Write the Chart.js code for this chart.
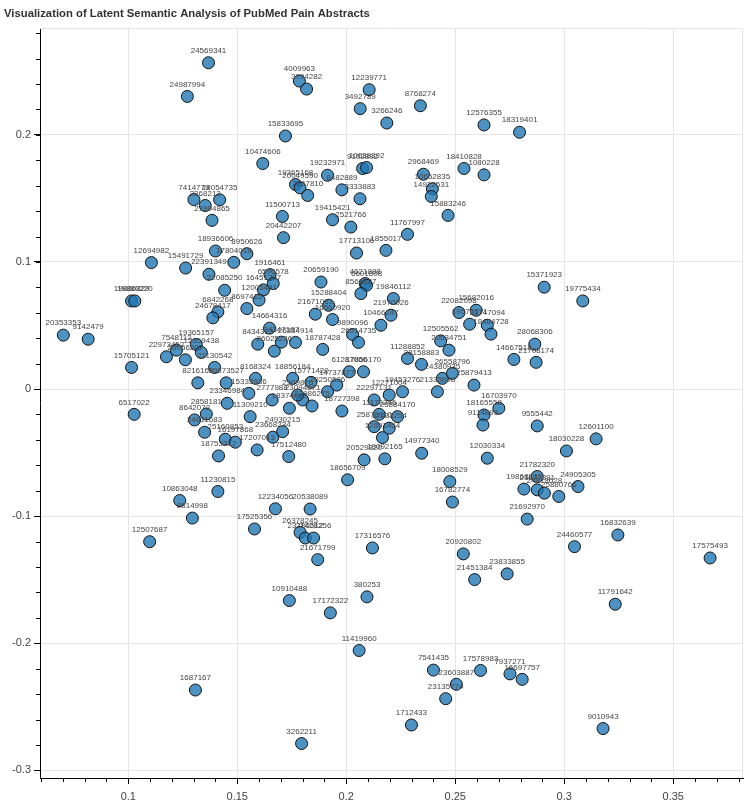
<!DOCTYPE html>
<html lang="en">
  <head>
    <meta charset="UTF-8" />
    <title>LSA of PubMed Pain Abstracts</title>
    <script src="https://cdn.jsdelivr.net/npm/chart.js"></script>
    <style>
      html, body { margin: 0; padding: 0; background: #fff; }
      #wrap { width: 750px; height: 805px; }
    </style>
  </head>
  <body>
    <div id="wrap"><canvas id="lsaChart"></canvas></div>
    <script>
      // PubMed ids and their LSA coordinates (component 1, component 2)
      const pmids = [
        "24569341","24987994","10474606","4009963","3794282","12239771","3492789","3266246","8768274","12576355",
        "18319401","15833695","9102892","10638392","2968469","18410828","1080228","19232971","8482889","3333883",
        "19365168","20049590","2267810","10652835","14922531","15883246","19415421","2521766","11500713","20442207",
        "11767997","17713106","1855017","20659190","4621888","6601808","8568627","19846112","15288404","21970026",
        "21671081","16560920","10466247","9890096","26514735","22082098","15682016","21747094","19570371","18484728",
        "7414779","18054735","2368212","21904865","18936606","8950626","17804018","12694982","15491729","22391349",
        "1916461","6596578","16451297","22085250","6842268","24678417","8697415","12005491","19886829","19880220",
        "20353353","9142479","15705121","22973452","7548112","19365157","12359438","26056207","21130542","8216169",
        "19873527","8434323","26025236","8168324","15333936","23346984","2777988","2858181","8642072","24611683",
        "11309210","25160853","16197868","18753312","17207013","23668234","6517022","18787428","11288852","28158883",
        "24380935","26558796","25879413","14667518","28068306","21708174","15371923","19775434","61287066","17856170",
        "16703970","18165558","9114893","12030334","14977340","19092165","20529320","18656709","18008529","16782774",
        "25884170","25878110","11170246","12633254","12891454","22297131","12271004","14737877","19453276","21335898",
        "12505562","20634751","26334914","18856184","15771420","23094571","2309876","18374880","22986275","17512480",
        "11230815","10863048","8814998","12507687","17525356","12234056","20538089","26378245","23780512","21428256",
        "21671799","17316576","20920802","21451384","23833855","10910488","380253","17172322","1687167","11419960",
        "7541435","17578983","23603887","23135774","1712433","3262211","7937271","16697757","9555442","12601100",
        "18030228","21782320","24905305","19868830","21877391","24818628","25880766","21692970","24460577","16832639",
        "17575493","11791642","9010943","14664316","24347187","24930215","20250536","18727398"
      ];
      const lsaX = [
        0.1368,0.1271,0.1617,0.1785,0.1818,0.2105,0.2064,0.2186,0.2340,0.2632,
        0.2795,0.1721,0.2075,0.2093,0.2354,0.2540,0.2632,0.1914,0.1980,0.2063,
        0.1767,0.1788,0.1823,0.2395,0.2390,0.2467,0.1937,0.2021,0.1707,0.1712,
        0.2281,0.2047,0.2182,0.1884,0.2087,0.2093,0.2067,0.2216,0.1919,0.2205,
        0.1858,0.1937,0.2159,0.2029,0.2056,0.2517,0.2596,0.2647,0.2566,0.2664,
        0.1301,0.1419,0.1353,0.1384,0.1400,0.1544,0.1484,0.1106,0.1263,0.1370,
        0.1650,0.1665,0.1620,0.1442,0.1411,0.1388,0.1544,0.1600,0.1015,0.1030,
        0.0702,0.0816,0.1015,0.1175,0.1221,0.1312,0.1335,0.1262,0.1396,0.1319,
        0.1449,0.1594,0.1670,0.1584,0.1553,0.1454,0.1660,0.1358,0.1304,0.1350,
        0.1559,0.1445,0.1491,0.1414,0.1591,0.1663,0.1027,0.1892,0.2281,0.2345,
        0.2441,0.2487,0.2586,0.2769,0.2865,0.2871,0.2908,0.3085,0.2014,0.2079,
        0.2700,0.2632,0.2627,0.2647,0.2346,0.2177,0.2082,0.2006,0.2475,0.2487,
        0.2235,0.2128,0.2151,0.2197,0.2166,0.2128,0.2197,0.1956,0.2258,0.2418,
        0.2433,0.2471,0.1767,0.1754,0.1838,0.1800,0.1777,0.1739,0.1843,0.1736,
        0.1411,0.1236,0.1294,0.1098,0.1579,0.1675,0.1834,0.1788,0.1812,0.1850,
        0.1869,0.2120,0.2537,0.2589,0.2738,0.1739,0.2095,0.1927,0.1308,0.2059,
        0.2400,0.2616,0.2505,0.2456,0.2299,0.1795,0.2751,0.2807,0.2876,0.3146,
        0.3010,0.2876,0.3063,0.2815,0.2876,0.2909,0.2975,0.2830,0.3047,0.3246,
        0.3669,0.3234,0.3178,0.1648,0.1702,0.1708,0.1914,0.1980
      ];
      const lsaY = [
        0.2567,0.2302,0.1774,0.2423,0.2360,0.2355,0.2206,0.2093,0.2229,0.2078,
        0.2020,0.1991,0.1735,0.1743,0.1690,0.1735,0.1685,0.1682,0.1567,0.1497,
        0.1609,0.1583,0.1523,0.1575,0.1515,0.1366,0.1332,0.1274,0.1358,0.1191,
        0.1217,0.1070,0.1091,0.0842,0.0830,0.0816,0.0751,0.0712,0.0659,0.0581,
        0.0589,0.0547,0.0502,0.0429,0.0367,0.0602,0.0620,0.0502,0.0510,0.0432,
        0.1491,0.1489,0.1444,0.1327,0.1086,0.1065,0.0997,0.0995,0.0952,0.0903,
        0.0900,0.0830,0.0780,0.0777,0.0607,0.0560,0.0633,0.0700,0.0693,0.0693,
        0.0424,0.0392,0.0170,0.0254,0.0306,0.0351,0.0288,0.0230,0.0170,0.0049,
        0.0049,0.0353,0.0298,0.0084,-0.0034,-0.0112,-0.0086,-0.0196,-0.0243,-0.0340,
        -0.0217,-0.0395,-0.0418,-0.0526,-0.0479,-0.0379,-0.0199,0.0312,0.0241,0.0194,
        0.0084,0.0123,0.0031,0.0233,0.0353,0.0210,0.0801,0.0693,0.0136,0.0136,
        -0.0151,-0.0204,-0.0283,-0.0544,-0.0505,-0.0549,-0.0557,-0.0714,-0.0728,-0.0889,
        -0.0217,-0.0296,-0.0199,-0.0308,-0.0382,-0.0086,-0.0047,0.0031,-0.0021,-0.0021,
        0.0379,0.0306,0.0367,0.0084,0.0053,-0.0086,-0.0047,-0.0151,-0.0133,-0.0531,
        -0.0806,-0.0877,-0.1015,-0.1201,-0.1101,-0.0942,-0.0944,-0.1128,-0.1172,-0.1172,
        -0.1342,-0.1250,-0.1297,-0.1499,-0.1454,-0.1664,-0.1635,-0.1761,-0.2368,-0.2057,
        -0.2211,-0.2214,-0.2323,-0.2436,-0.2643,-0.2789,-0.2241,-0.2284,-0.0290,-0.0392,
        -0.0487,-0.0688,-0.0767,-0.0787,-0.0793,-0.0819,-0.0845,-0.1023,-0.1240,-0.1148,
        -0.1329,-0.1693,-0.2671,0.0479,0.0369,-0.0335,-0.0021,-0.0173
      ];

      const points = lsaX.map((x, i) => ({ x: x, y: lsaY[i] }));

      const xMajor = [0.1, 0.15, 0.2, 0.25, 0.3, 0.35];
      const yMajor = [-0.3, -0.2, -0.1, 0, 0.1, 0.2];

      // pmid text above each circle
      const pointLabels = {
        id: "pointLabels",
        afterDatasetsDraw(chart) {
          const ctx = chart.ctx;
          const meta = chart.getDatasetMeta(0);
          ctx.save();
          ctx.font = "8px 'Liberation Sans', Arial, sans-serif";
          ctx.fillStyle = "#444";
          ctx.textAlign = "center";
          ctx.textBaseline = "bottom";
          meta.data.forEach((el, i) => {
            ctx.fillText(pmids[i], el.x, el.y - 8);
          });
          ctx.restore();
        },
      };

      // minor ticks + light outline like bokeh
      const axisExtras = {
        id: "axisExtras",
        afterDraw(chart) {
          const ctx = chart.ctx;
          const a = chart.chartArea;
          const xs = chart.scales.x;
          const ys = chart.scales.y;
          ctx.save();
          ctx.strokeStyle = "#e5e5e5";
          ctx.lineWidth = 1;
          ctx.beginPath();
          ctx.moveTo(a.left, a.top + 0.5);
          ctx.lineTo(a.right - 0.5, a.top + 0.5);
          ctx.lineTo(a.right - 0.5, a.bottom);
          ctx.stroke();
          ctx.strokeStyle = "#000";
          ctx.beginPath();
          for (let v = 0.06; v < 0.385; v += 0.01) {
            const px = Math.round(xs.getPixelForValue(v)) + 0.5;
            ctx.moveTo(px, a.bottom);
            ctx.lineTo(px, a.bottom + 4);
          }
          for (let v = -0.3; v < 0.285; v += 0.02) {
            const py = Math.round(ys.getPixelForValue(v)) + 0.5;
            ctx.moveTo(a.left, py);
            ctx.lineTo(a.left - 4, py);
          }
          ctx.stroke();
          ctx.restore();
        },
      };

      const ctx = document.getElementById("lsaChart").getContext("2d");
      new Chart(ctx, {
        type: "scatter",
        data: {
          datasets: [
            {
              data: points,
              pointRadius: 6,
              pointHoverRadius: 6,
              backgroundColor: "rgba(31,119,180,0.8)",
              borderColor: "#111",
              borderWidth: 1,
            },
          ],
        },
        options: {
          responsive: true,
          maintainAspectRatio: false,
          animation: false,
          layout: { padding: { top: 4, left: 4, right: 5, bottom: 0 } },
          plugins: {
            legend: { display: false },
            tooltip: { enabled: false },
            title: {
              display: true,
              text: "Visualization of Latent Semantic Analysis of PubMed Pain Abstracts",
              align: "start",
              color: "#333",
              font: { family: "'Liberation Sans', Arial, sans-serif", size: 11.3, weight: "bold" },
              padding: { top: 3, bottom: 7.5 },
            },
          },
          scales: {
            x: {
              type: "linear",
              min: 0.0595,
              max: 0.382,
              afterFit: (s) => { s.height = 27; },
              afterBuildTicks: (s) => { s.ticks = xMajor.map((v) => ({ value: v })); },
              ticks: {
                color: "#444",
                font: { family: "'Liberation Sans', Arial, sans-serif", size: 11 },
                padding: 6,
                maxRotation: 0,
                callback: (v) => String(Math.round(v * 100) / 100),
              },
              grid: { color: "#e5e5e5", tickColor: "#000", tickLength: 6 },
              border: { color: "#000", width: 1 },
            },
            y: {
              type: "linear",
              min: -0.306,
              max: 0.284,
              afterFit: (s) => { s.width = 36; },
              afterBuildTicks: (s) => { s.ticks = yMajor.map((v) => ({ value: v })); },
              ticks: {
                color: "#444",
                font: { family: "'Liberation Sans', Arial, sans-serif", size: 11 },
                padding: 3,
                callback: (v) => String(Math.round(v * 10) / 10),
              },
              grid: { color: "#e5e5e5", tickColor: "#000", tickLength: 6 },
              border: { color: "#000", width: 1 },
            },
          },
        },
        plugins: [pointLabels, axisExtras],
      });
    </script>
  </body>
</html>
